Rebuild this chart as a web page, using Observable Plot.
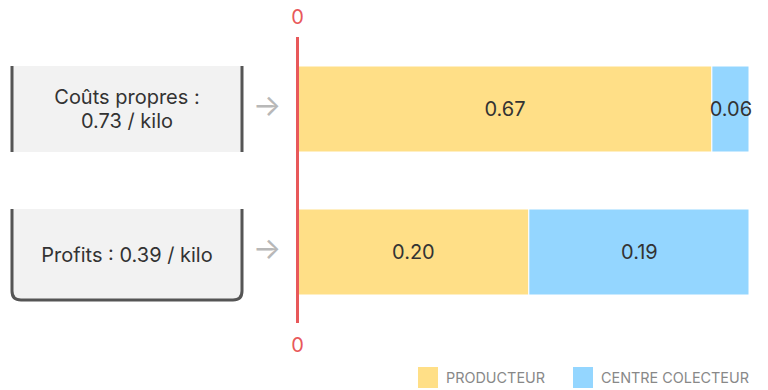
<!DOCTYPE html>
<html>
<head>
<meta charset="utf-8">
<script src="https://cdn.jsdelivr.net/npm/d3@7"></script>
<script src="https://cdn.jsdelivr.net/npm/@observablehq/plot@0.6"></script>
<style>
  html, body { margin: 0; padding: 0; background: #fff; }
  body { width: 768px; height: 390px; overflow: hidden; font-family: Inter, "Noto Sans", sans-serif; }
  #legend { display: flex; justify-content: flex-end; align-items: center; gap: 28px; padding-right: 19px; margin-top: 7px; height: 21px; }
  .item { display: flex; align-items: center; gap: 8px; font-size: 14.4px; color: #888; }
  .sw { width: 20px; height: 21px; }
</style>
</head>
<body>
<div id="chart"></div>
<div id="legend"></div>
<script>
const categories = ["Coûts propres", "Profits"];
const boxLabels = [["Coûts propres :", "0.73 / kilo"], ["Profits : 0.39 / kilo"]];
const series = ["PRODUCTEUR", "CENTRE COLECTEUR"];
const producteur = [0.67, 0.20];
const centre = [0.06, 0.19];
const colors = ["#FFDF87", "#94D6FF"];

const data = [];
categories.forEach((c, i) => {
  data.push({cat: c, series: series[0], value: producteur[i]});
  data.push({cat: c, series: series[1], value: centre[i]});
});

const boxMark = (index, scales) => {
  const g = d3.create("svg:g");
  const y = scales.y;
  const bw = y.bandwidth();
  const x0 = 12, x1 = 242;
  categories.forEach((c, i) => {
    const top = y(c);
    let bot;
    if (i === 0) {
      bot = top + bw;
      g.append("rect").attr("x", x0).attr("y", top).attr("width", x1 - x0).attr("height", bw).attr("fill", "#f2f2f2");
      g.append("line").attr("x1", x0).attr("x2", x0).attr("y1", top).attr("y2", bot).attr("stroke", "#555").attr("stroke-width", 3);
      g.append("line").attr("x1", x1).attr("x2", x1).attr("y1", top).attr("y2", bot).attr("stroke", "#555").attr("stroke-width", 3);
    } else {
      bot = top + bw + 5;
      const r = 9;
      g.append("path")
        .attr("d", `M${x0},${top}V${bot - r}Q${x0},${bot} ${x0 + r},${bot}H${x1 - r}Q${x1},${bot} ${x1},${bot - r}V${top}`)
        .attr("fill", "#f2f2f2").attr("stroke", "#555").attr("stroke-width", 3);
    }
    const lines = boxLabels[i];
    const cy = (top + bot) / 2;
    const lh = 24;
    const t = g.append("text").attr("text-anchor", "middle").attr("fill", "#333")
      .attr("font-size", 20).attr("font-family", "Inter, sans-serif");
    lines.forEach((l, k) => {
      t.append("tspan").attr("x", (x0 + x1) / 2)
        .attr("y", cy + (k - (lines.length - 1) / 2) * lh)
        .attr("dy", "0.35em").text(l);
    });
    g.append("text").attr("x", 267).attr("y", top + bw / 2 - 4).attr("dy", "0.35em")
      .attr("text-anchor", "middle").attr("fill", "#b8b8b8").attr("font-size", 30).text("→");
  });
  return g.node();
};

const chart = Plot.plot({
  width: 768,
  height: 360,
  marginLeft: 297,
  marginRight: 19,
  marginTop: 37,
  marginBottom: 37,
  style: {fontFamily: "Inter, sans-serif", fontSize: "20px", color: "#333", background: "#fff"},
  x: {domain: [0, 1], axis: null},
  y: {domain: categories, axis: null, paddingInner: 0.4, paddingOuter: 0.2},
  color: {domain: series, range: colors},
  marks: [
    Plot.barX(data, {x: "value", y: "cat", fill: "series", offset: "normalize", stroke: "white", strokeWidth: 1}),
    Plot.text(data, Plot.stackX({x: "value", y: "cat", offset: "normalize", text: d => d.value.toFixed(2), fill: "#333", fontSize: 20})),
    Plot.ruleX([0], {stroke: "#E8585A", strokeWidth: 3}),
    Plot.text([0], {x: d => d, frameAnchor: "top", lineAnchor: "middle", dy: -20, text: d => String(d), fill: "#E8585A", fontSize: 20}),
    Plot.text([0], {x: d => d, frameAnchor: "bottom", lineAnchor: "middle", dy: 22, text: d => String(d), fill: "#E8585A", fontSize: 20}),
    boxMark
  ]
});
document.getElementById("chart").appendChild(chart);

const legend = d3.select("#legend");
series.forEach((s, i) => {
  const it = legend.append("div").attr("class", "item");
  it.append("div").attr("class", "sw").style("background", colors[i]);
  it.append("span").text(s);
});
</script>
</body>
</html>
